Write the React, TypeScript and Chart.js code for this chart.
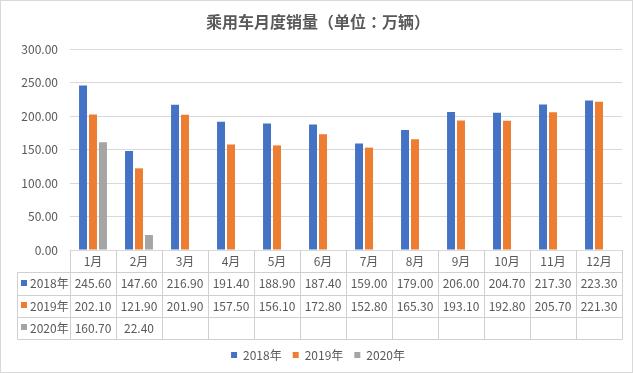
import React, { useEffect, useRef } from "react";
import { Chart, registerables } from "chart.js";

Chart.register(...registerables);

const TITLE = "乘用车月度销量（单位：万辆）";
const categories = ["1月", "2月", "3月", "4月", "5月", "6月", "7月", "8月", "9月", "10月", "11月", "12月"];
const seriesNames = ["2018年", "2019年", "2020年"];
const sales2018 = [245.6, 147.6, 216.9, 191.4, 188.9, 187.4, 159.0, 179.0, 206.0, 204.7, 217.3, 223.3];
const sales2019 = [202.1, 121.9, 201.9, 157.5, 156.1, 172.8, 152.8, 165.3, 193.1, 192.8, 205.7, 221.3];
const sales2020: (number | null)[] = [160.7, 22.4, null, null, null, null, null, null, null, null, null, null];
const seriesColors = ["#4472C4", "#ED7D31", "#A5A5A5"];
const yMin = 0;
const yMax = 300;
const yStep = 50;

const FONT = '"Noto Sans CJK SC", "Noto Sans", sans-serif';
const TITLE_FONT = '"Noto Sans CJK TC", "Noto Sans CJK SC", sans-serif';
const TEXT = "#595959";
const LINE = "#D9D9D9";

export default function App() {
  const ref = useRef<HTMLCanvasElement | null>(null);

  useEffect(() => {
    document.body.style.margin = "0";
    const canvas = ref.current;
    if (!canvas) return;
    const seriesData = [sales2018, sales2019, sales2020];

    const framePlugin = {
      id: "frame",
      beforeDraw(chart: any) {
        const { ctx, width, height } = chart;
        ctx.save();
        ctx.fillStyle = "#ffffff";
        ctx.fillRect(0, 0, width, height);
        ctx.strokeStyle = LINE;
        ctx.lineWidth = 1;
        ctx.strokeRect(0.5, 0.5, width - 1, height - 1);
        ctx.restore();
      },
    };

    const tablePlugin = {
      id: "dataTable",
      afterDraw(chart: any) {
        const { ctx, chartArea, scales } = chart;
        const xs = scales.x;
        const n = categories.length;
        const colW = (chartArea.right - chartArea.left) / n;
        const top = chartArea.bottom;
        const rowH = 22.25;
        const labelLeft = 17;
        const nRows = seriesNames.length + 1;
        const bottom = top + rowH * nRows;
        const px = (v: number) => Math.round(v) + 0.5;
        ctx.save();
        ctx.strokeStyle = "#D0D0D0";
        ctx.lineWidth = 1;
        ctx.beginPath();
        for (let i = 0; i <= n; i++) {
          const xv = i < n ? xs.getPixelForValue(i) - colW / 2 : xs.getPixelForValue(n - 1) + colW / 2;
          ctx.moveTo(px(xv), top);
          ctx.lineTo(px(xv), px(bottom));
        }
        ctx.moveTo(px(labelLeft), px(top + rowH));
        ctx.lineTo(px(labelLeft), px(bottom));
        for (let r = 1; r <= nRows; r++) {
          const yv = px(top + rowH * r);
          ctx.moveTo(px(labelLeft), yv);
          ctx.lineTo(px(chartArea.right), yv);
        }
        ctx.stroke();

        ctx.fillStyle = TEXT;
        ctx.font = `12px ${FONT}`;
        ctx.textBaseline = "middle";
        ctx.textAlign = "center";
        categories.forEach((c, i) => {
          ctx.fillText(c, xs.getPixelForValue(i), top + rowH / 2 + 0.5);
        });
        seriesNames.forEach((name, s) => {
          const cy = top + rowH * (s + 1) + rowH / 2 + 0.5;
          ctx.fillStyle = seriesColors[s];
          ctx.fillRect(labelLeft + 4, Math.round(cy) - 4, 6, 6);
          ctx.fillStyle = TEXT;
          ctx.textAlign = "left";
          ctx.fillText(name, labelLeft + 13, cy);
          ctx.textAlign = "center";
          seriesData[s].forEach((v, i) => {
            if (v === null || v === undefined) return;
            ctx.fillText((v as number).toFixed(2), xs.getPixelForValue(i), cy);
          });
        });
        ctx.restore();
      },
    };

    const chart = new Chart(canvas, {
      type: "bar",
      data: {
        labels: categories,
        datasets: seriesNames.map((name, s) => ({
          label: name,
          data: seriesData[s],
          backgroundColor: seriesColors[s],
          borderWidth: 0,
          categoryPercentage: 0.65,
          barPercentage: 0.8,
        })),
      },
      options: {
        responsive: false,
        animation: false,
        devicePixelRatio: 1,
        layout: { padding: { left: 14, right: 11, top: 0, bottom: 2 } },
        scales: {
          x: {
            grid: { display: false },
            border: { display: false },
            ticks: { display: false },
            afterFit: (s: any) => {
              s.height = 88;
            },
          },
          y: {
            min: yMin,
            max: yMax,
            ticks: {
              stepSize: yStep,
              padding: 12,
              color: TEXT,
              font: { family: FONT, size: 12 },
              callback: (v: any) => Number(v).toFixed(2),
            },
            grid: { color: LINE, drawTicks: false },
            border: { display: false },
            afterFit: (s: any) => {
              s.width = 56;
            },
          },
        },
        plugins: {
          title: {
            display: true,
            text: TITLE,
            color: TEXT,
            font: { family: TITLE_FONT, size: 16, weight: "bold" },
            padding: { top: 12.4, bottom: 17.4 },
          },
          legend: {
            position: "bottom",
            labels: {
              boxWidth: 6,
              boxHeight: 6,
              padding: 11,
              color: TEXT,
              font: { family: FONT, size: 12 },
            },
          },
          tooltip: { enabled: false },
        },
      },
      plugins: [framePlugin, tablePlugin],
    } as any);

    return () => chart.destroy();
  }, []);

  return (
    <div style={{ width: 633, height: 373 }}>
      <canvas ref={ref} width={633} height={373} style={{ display: "block" }} />
    </div>
  );
}
